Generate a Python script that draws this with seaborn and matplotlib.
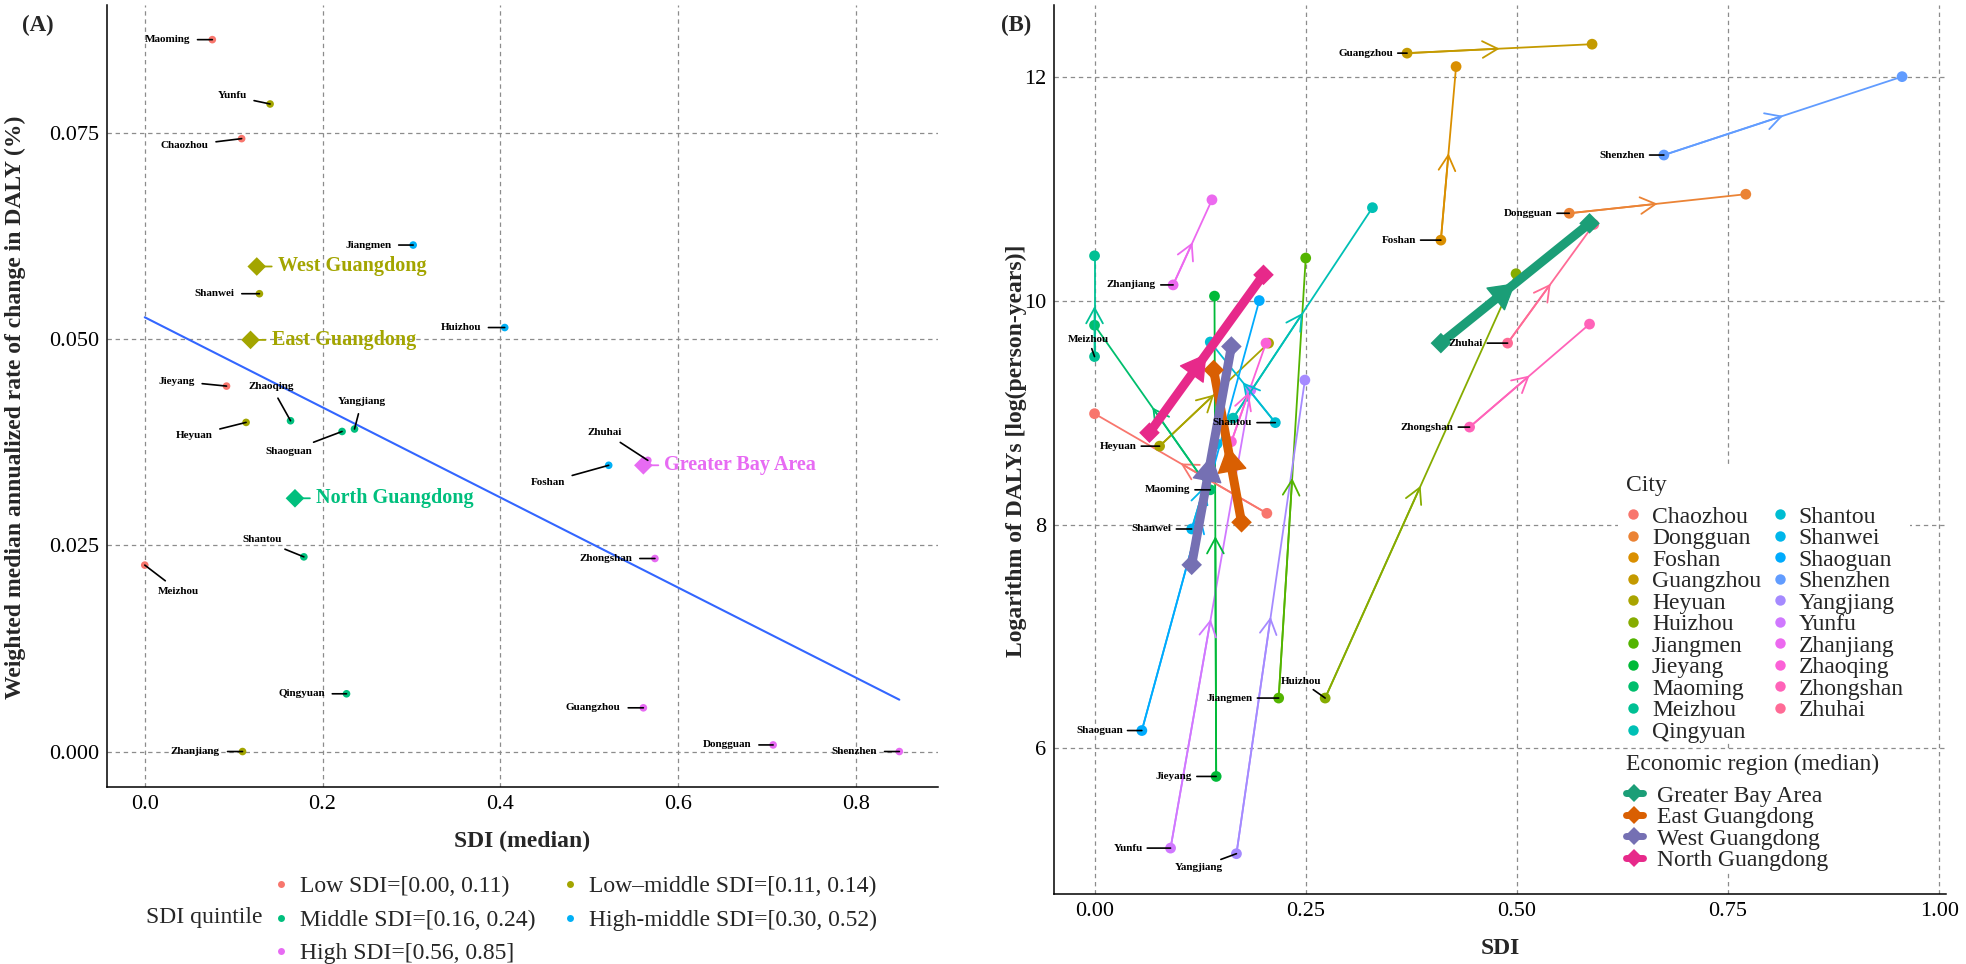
import math
import numpy as np
import pandas as pd
import matplotlib
matplotlib.use("Agg")
import matplotlib.pyplot as plt
from matplotlib.lines import Line2D
from matplotlib.patches import Rectangle
from matplotlib.ticker import FormatStrFormatter, FixedLocator
import seaborn as sns

# ---------------------------------------------------------------- data: panel A
cities_a = ["Maoming", "Yunfu", "Chaozhou", "Jiangmen", "Shanwei", "Huizhou", "Jieyang",
            "Zhaoqing", "Heyuan", "Shaoguan", "Yangjiang", "Shantou", "Meizhou", "Qingyuan",
            "Zhanjiang", "Foshan", "Zhuhai", "Zhongshan", "Guangzhou", "Dongguan", "Shenzhen"]
sdi_a = [0.076, 0.141, 0.109, 0.302, 0.129, 0.405, 0.092,
         0.164, 0.114, 0.222, 0.236, 0.179, 0.000, 0.227,
         0.110, 0.522, 0.566, 0.574, 0.561, 0.707, 0.849]
rate_a = [0.0863, 0.0785, 0.0743, 0.0614, 0.0555, 0.0514, 0.0443,
          0.0401, 0.0399, 0.0388, 0.0391, 0.0236, 0.0226, 0.0070,
          0.0000, 0.0347, 0.0353, 0.0234, 0.0053, 0.0008, 0.0000]
quintiles = ["Low SDI=[0.00, 0.11)", "Low\u2013middle SDI=[0.11, 0.14)", "Middle SDI=[0.16, 0.24)",
             "High-middle SDI=[0.30, 0.52)", "High SDI=[0.56, 0.85]"]
quint_idx_a = [0, 1, 0, 3, 1, 3, 0,
               2, 1, 2, 2, 2, 0, 2,
               1, 3, 4, 4, 4, 4, 4]
regions_a = ["West Guangdong", "East Guangdong", "North Guangdong", "Greater Bay Area"]
reg_sdi_a = [0.126, 0.119, 0.169, 0.561]
reg_rate_a = [0.0588, 0.0499, 0.0307, 0.0347]
reg_quint_a = [1, 1, 2, 4]

# ---------------------------------------------------------------- data: panel B
cities_b = ["Chaozhou", "Dongguan", "Foshan", "Guangzhou", "Heyuan", "Huizhou", "Jiangmen",
            "Jieyang", "Maoming", "Meizhou", "Qingyuan", "Shantou", "Shanwei", "Shaoguan",
            "Shenzhen", "Yangjiang", "Yunfu", "Zhanjiang", "Zhaoqing", "Zhongshan", "Zhuhai"]
sdi_start = [0.204, 0.562, 0.410, 0.370, 0.077, 0.273, 0.218,
             0.144, 0.137, 0.000, 0.164, 0.214, 0.115, 0.056,
             0.674, 0.168, 0.090, 0.093, 0.162, 0.444, 0.489]
daly_start = [8.10, 10.78, 10.54, 12.21, 8.70, 6.45, 6.45,
              5.75, 8.31, 9.50, 8.95, 8.91, 7.96, 6.16,
              11.30, 5.06, 5.11, 10.14, 8.74, 8.87, 9.62]
sdi_end = [0.000, 0.771, 0.428, 0.589, 0.206, 0.499, 0.250,
           0.142, 0.000, 0.000, 0.329, 0.137, 0.145, 0.195,
           0.956, 0.249, 0.185, 0.139, 0.203, 0.586, 0.591]
daly_end = [8.99, 10.95, 12.09, 12.29, 9.62, 10.24, 10.38,
            10.04, 9.78, 10.40, 10.83, 9.63, 8.72, 10.00,
            12.00, 9.29, 9.20, 10.90, 9.62, 9.79, 10.68]
regions_b = ["Greater Bay Area", "East Guangdong", "West Guangdong", "North Guangdong"]
reg_sdi_start = [0.410, 0.174, 0.115, 0.065]
reg_daly_start = [9.62, 8.02, 7.64, 8.82]
reg_sdi_end = [0.586, 0.141, 0.162, 0.200]
reg_daly_end = [10.69, 9.38, 9.59, 10.23]
region_colors = ["#1B9E77", "#D95F02", "#7570B3", "#E7298A"]

# ---------------------------------------------------------------- colours (ggplot hue palette)
def hcl_hex(h, c=100.0, l=65.0):
    xn, yn, zn = 95.047, 100.0, 108.883
    un = 4 * xn / (xn + 15 * yn + 3 * zn)
    vn = 9 * yn / (xn + 15 * yn + 3 * zn)
    hr = math.radians(h)
    u, v = c * math.cos(hr), c * math.sin(hr)
    y = yn * ((l + 16) / 116) ** 3
    up = u / (13 * l) + un
    vp = v / (13 * l) + vn
    x = y * 9 * up / (4 * vp)
    z = y * (12 - 3 * up - 20 * vp) / (4 * vp)
    x, y, z = x / 100, y / 100, z / 100
    rgb = [3.2404542 * x - 1.5371385 * y - 0.4985314 * z,
           -0.9692660 * x + 1.8760108 * y + 0.0415560 * z,
           0.0556434 * x - 0.2040259 * y + 1.0572252 * z]
    out = []
    for ch in rgb:
        ch = 12.92 * ch if ch <= 0.0031308 else 1.055 * ch ** (1 / 2.4) - 0.055
        out.append(min(max(ch, 0), 1))
    return matplotlib.colors.to_hex(out)


def hue_pal(n):
    return [hcl_hex(15 + 360 * i / n) for i in range(n)]


quint_colors = hue_pal(5)
city_colors = hue_pal(len(cities_b))
qpal = dict(zip(quintiles, quint_colors))
cpal = dict(zip(cities_b, city_colors))
rpal = dict(zip(regions_b, region_colors))

# ---------------------------------------------------------------- layout (label offsets, pixels)
lab_a = {  # dx, dy, ha
    "Maoming": (-45, 0, "center"), "Yunfu": (-38, 8, "center"), "Chaozhou": (-57, -7, "center"),
    "Jiangmen": (-45, 0, "center"), "Shanwei": (-45, 0, "center"), "Huizhou": (-44, 0, "center"),
    "Jieyang": (-50, 5, "center"), "Zhaoqing": (-19, 34, "center"), "Yangjiang": (7, 27, "center"),
    "Heyuan": (-52, -13, "center"), "Shaoguan": (-53, -20, "center"), "Shantou": (-42, 17, "center"),
    "Meizhou": (34, -26, "center"), "Qingyuan": (-45, 0, "center"), "Zhanjiang": (-47, 0, "center"),
    "Foshan": (-61, -17, "center"), "Zhuhai": (-43, 28, "center"), "Zhongshan": (-49, 0, "center"),
    "Guangzhou": (-50, 0, "center"), "Dongguan": (-46, 0, "center"), "Shenzhen": (-45, 0, "center"),
}
lab_b = {
    "Guangzhou": (-14, 0, "right"), "Foshan": (-25, 0, "right"), "Zhanjiang": (-17, 0, "right"),
    "Meizhou": (-6, 17, "center"), "Zhuhai": (-25, 0, "right"), "Shenzhen": (-19, 0, "right"),
    "Dongguan": (-17, 0, "right"), "Zhongshan": (-16, 0, "right"), "Heyuan": (-23, 0, "right"),
    "Shantou": (-23, 0, "right"), "Maoming": (-20, 0, "right"), "Shanwei": (-20, 0, "right"),
    "Huizhou": (-24, 17, "center"), "Jiangmen": (-26, 0, "right"), "Shaoguan": (-19, 0, "right"),
    "Jieyang": (-24, 0, "right"), "Yunfu": (-28, 0, "right"), "Yangjiang": (-38, -14, "center"),
}

# ---------------------------------------------------------------- style
sns.set_style("white")
plt.rcParams["font.family"] = ["Liberation Serif", "DejaVu Serif"]
plt.rcParams["axes.unicode_minus"] = False

W, H = 1966, 964
fig = plt.figure(figsize=(W / 100, H / 100), dpi=100)
axA = fig.add_axes([107 / W, 1 - 787 / H, (938 - 107) / W, (787 - 5) / H])
axB = fig.add_axes([1054 / W, 1 - 894 / H, (1946 - 1054) / W, (894 - 5) / H])


def style(ax):
    for s in ["top", "right"]:
        ax.spines[s].set_visible(False)
    for s in ["left", "bottom"]:
        ax.spines[s].set_color("black")
        ax.spines[s].set_linewidth(1.1)
    ax.grid(True, color="#8c8c8c", linestyle=(0, (3.5, 3)), linewidth=0.9)
    ax.set_axisbelow(True)
    ax.tick_params(length=2.5, width=0.8, labelsize=16, pad=3, colors="black")


# ================================================================ panel A
dfA = pd.DataFrame({"city": cities_a, "sdi": sdi_a, "rate": rate_a,
                    "quintile": [quintiles[i] for i in quint_idx_a]})
dfR = pd.DataFrame({"region": regions_a, "sdi": reg_sdi_a, "rate": reg_rate_a,
                    "quintile": [quintiles[i] for i in reg_quint_a]})

sns.regplot(data=dfA, x="sdi", y="rate", scatter=False, ci=None, truncate=True,
            color="#3366FF", line_kws=dict(lw=1.5, zorder=2), ax=axA)
sns.scatterplot(data=dfA, x="sdi", y="rate", hue="quintile", palette=qpal, s=30,
                edgecolor="none", legend=False, ax=axA, zorder=3)

for _, r in dfA.iterrows():
    dx, dy, ha = lab_a[r["city"]]
    axA.annotate(r["city"], xy=(r["sdi"], r["rate"]), xytext=(dx, dy), textcoords="offset pixels",
                 ha=ha, va="center", fontsize=8, fontweight="bold", color="black", zorder=6,
                 arrowprops=dict(arrowstyle="-", color="black", lw=1.2, shrinkA=3, shrinkB=0))

sns.scatterplot(data=dfR, x="sdi", y="rate", hue="quintile", palette=qpal, marker="D", s=90,
                edgecolor="none", legend=False, ax=axA, zorder=4)
for _, r in dfR.iterrows():
    col = qpal[r["quintile"]]
    axA.annotate(r["region"], xy=(r["sdi"], r["rate"]), xytext=(21, 0), textcoords="offset pixels",
                 ha="left", va="center", fontsize=14.5, fontweight="bold", color=col, zorder=6,
                 arrowprops=dict(arrowstyle="-", color=col, lw=1.3, shrinkA=2, shrinkB=0))

style(axA)
axA.set_xlim(-0.0425, 0.8925)
axA.set_ylim(-0.0043, 0.0905)
axA.xaxis.set_major_locator(FixedLocator([0.0, 0.2, 0.4, 0.6, 0.8]))
axA.yaxis.set_major_locator(FixedLocator([0.0, 0.025, 0.05, 0.075]))
axA.xaxis.set_major_formatter(FormatStrFormatter("%.1f"))
axA.yaxis.set_major_formatter(FormatStrFormatter("%.3f"))
axA.set_xlabel("SDI (median)", fontsize=17, fontweight="bold")
axA.set_ylabel("Weighted median annualized rate of change in DALY (%)", fontsize=17, fontweight="bold")
axA.xaxis.set_label_coords(0.5, -0.056)
axA.yaxis.set_label_coords(-0.0975, 0.486)

handlesA = [Line2D([], [], ls="", marker="o", ms=5, color=qpal[q], markeredgewidth=0) for q in quintiles]
orderA = [0, 2, 4, 1, 3]
legA = fig.legend([handlesA[i] for i in orderA], [quintiles[i] for i in orderA], ncol=2,
                  loc="upper left", bbox_to_anchor=(274 / W, 1 - 876 / H), bbox_transform=fig.transFigure,
                  frameon=False, fontsize=17, handlelength=0.6, handletextpad=0.5,
                  columnspacing=1.15, labelspacing=0.5, borderpad=0, borderaxespad=0)
fig.text(262 / W, 1 - 918 / H, "SDI quintile", ha="right", va="center", fontsize=17)

# ================================================================ panel B
rows = []
for i, c in enumerate(cities_b):
    rows.append(dict(city=c, uid=i, step=0, sdi=sdi_start[i], daly=daly_start[i]))
    rows.append(dict(city=c, uid=i, step=1, sdi=sdi_end[i], daly=daly_end[i]))
dfB = pd.DataFrame(rows)
rrows = []
for i, r in enumerate(regions_b):
    rrows.append(dict(region=r, uid=i, step=0, sdi=reg_sdi_start[i], daly=reg_daly_start[i]))
    rrows.append(dict(region=r, uid=i, step=1, sdi=reg_sdi_end[i], daly=reg_daly_end[i]))
dfRB = pd.DataFrame(rrows)

sns.lineplot(data=dfB, x="sdi", y="daly", hue="city", units="uid", estimator=None, sort=False,
             palette=cpal, lw=1.3, legend=False, ax=axB, zorder=2)
sns.scatterplot(data=dfB, x="sdi", y="daly", hue="city", palette=cpal, s=60, edgecolor="none",
                legend=False, ax=axB, zorder=3)
for i, c in enumerate(cities_b):
    mid = ((sdi_start[i] + sdi_end[i]) / 2, (daly_start[i] + daly_end[i]) / 2)
    axB.annotate("", xy=mid, xytext=(sdi_start[i], daly_start[i]), zorder=3,
                 arrowprops=dict(arrowstyle="->,head_length=1.1,head_width=0.6", color=cpal[c],
                                 lw=1.3, shrinkA=0, shrinkB=0, mutation_scale=10))

sns.lineplot(data=dfRB, x="sdi", y="daly", hue="region", units="uid", estimator=None, sort=False,
             palette=rpal, lw=6.5, legend=False, ax=axB, zorder=4)
sns.scatterplot(data=dfRB, x="sdi", y="daly", hue="region", palette=rpal, marker="D", s=110,
                edgecolor="none", legend=False, ax=axB, zorder=5)
for i, r in enumerate(regions_b):
    mid = ((reg_sdi_start[i] + reg_sdi_end[i]) / 2, (reg_daly_start[i] + reg_daly_end[i]) / 2)
    axB.annotate("", xy=mid, xytext=(reg_sdi_start[i], reg_daly_start[i]), zorder=5,
                 arrowprops=dict(arrowstyle="-|>,head_length=1.7,head_width=1.0", color=rpal[r],
                                 lw=1, shrinkA=0, shrinkB=0, mutation_scale=10))

for i, c in enumerate(cities_b):
    if c not in lab_b:
        continue
    dx, dy, ha = lab_b[c]
    axB.annotate(c, xy=(sdi_start[i], daly_start[i]), xytext=(dx, dy), textcoords="offset pixels",
                 ha=ha, va="center", fontsize=8, fontweight="bold", color="black", zorder=6,
                 arrowprops=dict(arrowstyle="-", color="black", lw=1.2, shrinkA=1, shrinkB=0))

style(axB)
axB.set_xlim(-0.048, 1.008)
axB.set_ylim(4.70, 12.64)
axB.xaxis.set_major_locator(FixedLocator([0.0, 0.25, 0.5, 0.75, 1.0]))
axB.yaxis.set_major_locator(FixedLocator([6, 8, 10, 12]))
axB.xaxis.set_major_formatter(FormatStrFormatter("%.2f"))
axB.set_xlabel("SDI", fontsize=17, fontweight="bold")
axB.set_ylabel("Logarithm of DALYs [log(person-years)]", fontsize=17, fontweight="bold")
axB.xaxis.set_label_coords(0.5, -0.0495)
axB.yaxis.set_label_coords(-0.030, 0.498)

# legend backgrounds
for (x0, y0, x1, y1) in [(1618, 466, 1910, 742), (1618, 751, 1910, 873)]:
    fig.patches.append(Rectangle((x0 / W, 1 - y1 / H), (x1 - x0) / W, (y1 - y0) / H,
                                 transform=fig.transFigure, facecolor="white", edgecolor="none", zorder=8))

fig.text(1626 / W, 1 - 485 / H, "City", ha="left", va="center", fontsize=17, zorder=9)
handlesC = [Line2D([], [], ls="", marker="o", ms=7.5, color=cpal[c], markeredgewidth=0) for c in cities_b]
legC = fig.legend(handlesC, cities_b, ncol=2, loc="upper left",
                  bbox_to_anchor=(1626 / W, 1 - 506 / H), bbox_transform=fig.transFigure,
                  frameon=False, fontsize=17, handlelength=0.6, handletextpad=0.5,
                  columnspacing=0.5, labelspacing=0.0, borderpad=0, borderaxespad=0)
legC.set_zorder(10)

fig.text(1626 / W, 1 - 764 / H, "Economic region (median)", ha="left", va="center", fontsize=17, zorder=9)
handlesR = [Line2D([], [], marker="D", ms=9, lw=5, color=rpal[r], markeredgewidth=0) for r in regions_b]
legR = fig.legend(handlesR, regions_b, ncol=1, loc="upper left",
                  bbox_to_anchor=(1626 / W, 1 - 785 / H), bbox_transform=fig.transFigure,
                  frameon=False, fontsize=17, handlelength=0.7, handletextpad=0.6,
                  labelspacing=0.0, borderpad=0, borderaxespad=0)
legR.set_zorder(10)

fig.text(38 / W, 1 - 25 / H, "(A)", ha="center", va="center", fontsize=16.5, fontweight="bold")
fig.text(1016 / W, 1 - 25 / H, "(B)", ha="center", va="center", fontsize=16.5, fontweight="bold")

fig.savefig("out.png", dpi=100, facecolor="white")
